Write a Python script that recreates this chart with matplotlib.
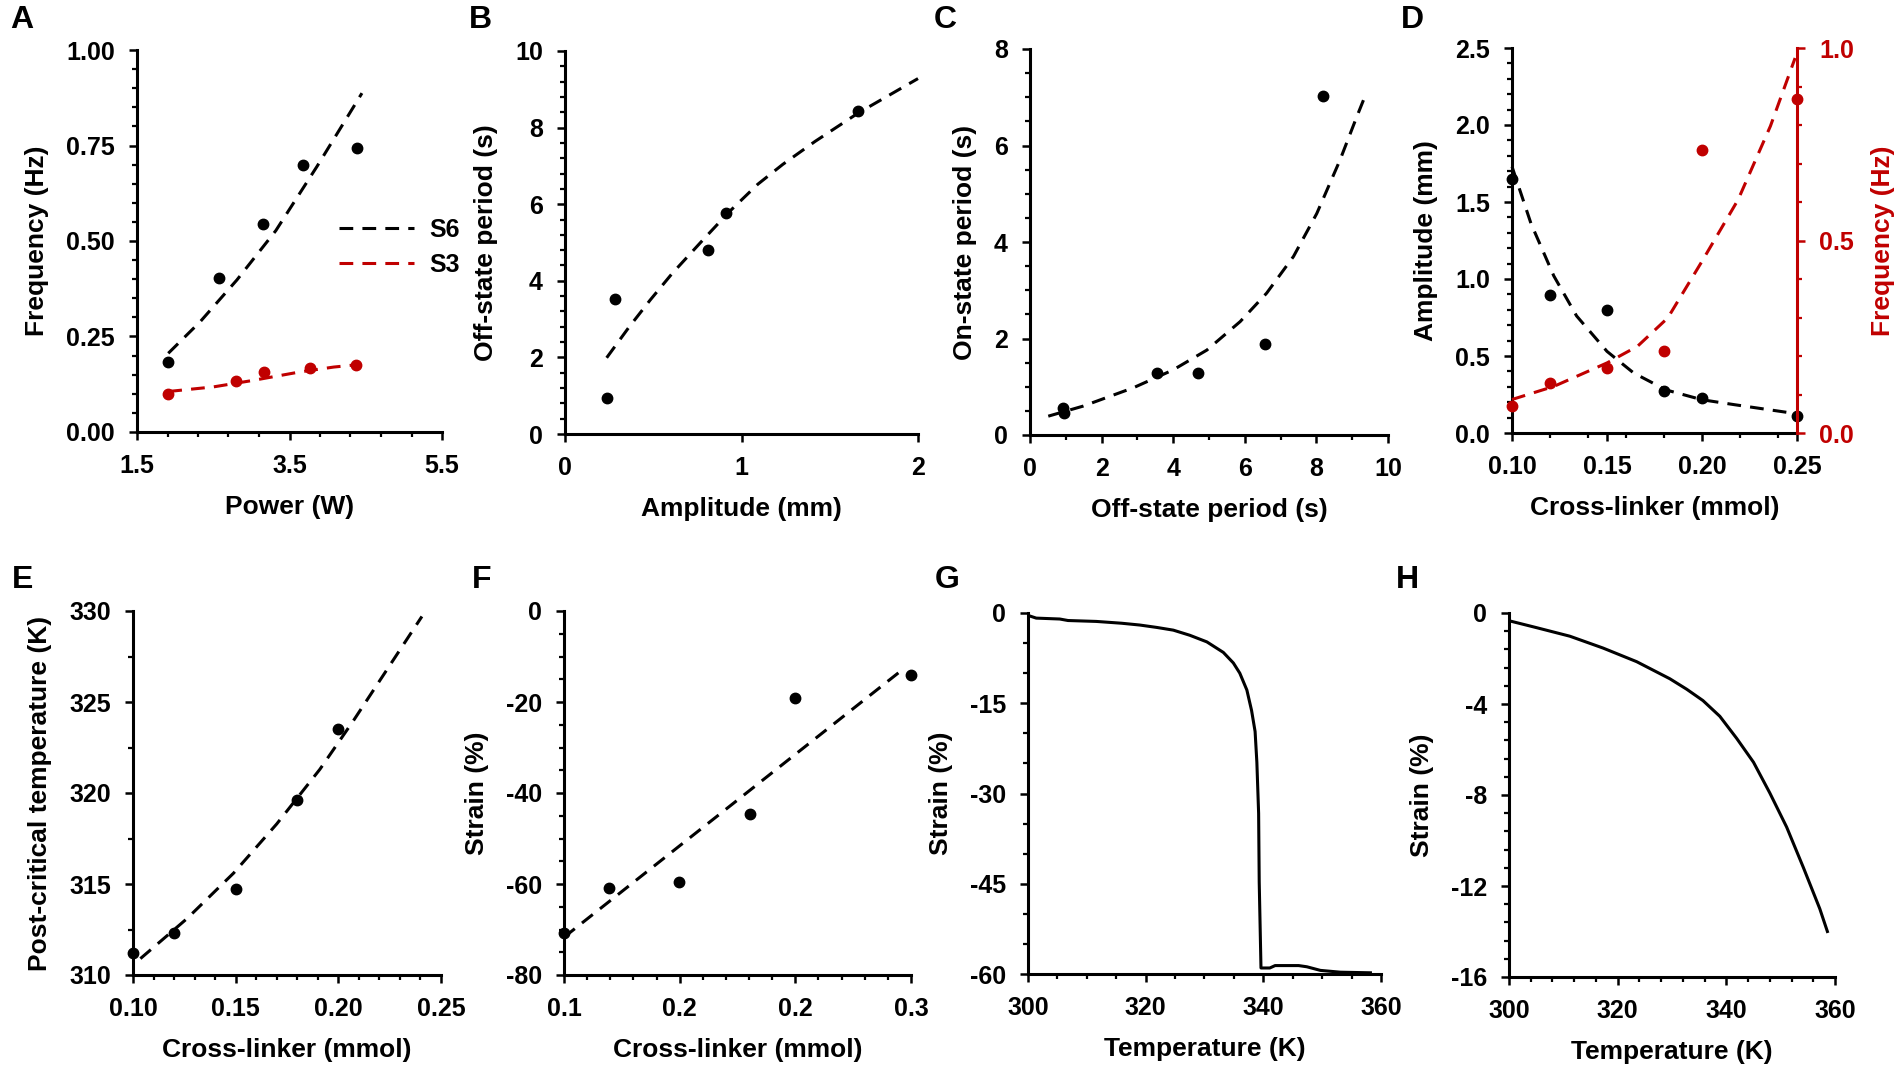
import matplotlib
matplotlib.use("Agg")
import matplotlib.pyplot as plt
from matplotlib.ticker import MultipleLocator, FormatStrFormatter, FixedLocator
import numpy as np

plt.rcParams['font.family'] = ['Liberation Sans', 'DejaVu Sans']
plt.rcParams['font.weight'] = 'bold'
plt.rcParams['axes.labelweight'] = 'bold'
plt.rcParams['axes.unicode_minus'] = False

RED = '#C00000'

# === data ===
# A: frequency vs power
a_s6_x = [1.91, 2.58, 3.15, 3.68, 4.39]
a_s6_y = [0.183, 0.403, 0.545, 0.699, 0.743]
a_s6_fit_x = [1.91, 2.33, 2.81, 3.32, 3.86, 4.45]
a_s6_fit_y = [0.206, 0.289, 0.398, 0.527, 0.695, 0.887]
a_s3_x = [1.91, 2.80, 3.16, 3.77, 4.37]
a_s3_y = [0.099, 0.134, 0.158, 0.167, 0.175]
a_s3_fit_x = [1.91, 2.50, 3.02, 3.63, 4.08, 4.38]
a_s3_fit_y = [0.106, 0.118, 0.135, 0.157, 0.170, 0.176]

# B: off-state period vs amplitude
b_x = [0.236, 0.286, 0.808, 0.91, 1.661]
b_y = [0.93, 3.53, 4.81, 5.78, 8.44]
b_fit_x = [0.236, 0.361, 0.483, 0.605, 0.788, 0.93, 1.092, 1.234, 1.417, 1.661, 2.0]
b_fit_y = [1.99, 2.78, 3.50, 4.18, 5.10, 5.80, 6.52, 7.04, 7.64, 8.38, 9.28]

# C: on-state period vs off-state period
c_x = [0.93, 0.96, 3.54, 4.68, 6.56, 8.19]
c_y = [0.55, 0.45, 1.29, 1.28, 1.89, 7.03]
c_fit_x = [0.51, 1.49, 2.89, 4.0, 4.94, 5.87, 6.61, 7.36, 8.01, 8.66, 9.13, 9.39]
c_fit_y = [0.39, 0.60, 0.98, 1.35, 1.76, 2.35, 2.94, 3.70, 4.59, 5.70, 6.60, 7.08]

# D: amplitude / frequency vs cross-linker
d_x = [0.10, 0.12, 0.15, 0.18, 0.20, 0.25]
d_amp = [1.65, 0.894, 0.797, 0.27, 0.227, 0.108]
d_freq = [0.069, 0.13, 0.169, 0.212, 0.736, 0.868]
d_amp_fit_x = [0.10, 0.11, 0.122, 0.134, 0.15, 0.164, 0.181, 0.20, 0.217, 0.247]
d_amp_fit_y = [1.73, 1.36, 1.02, 0.76, 0.53, 0.39, 0.28, 0.216, 0.184, 0.13]
d_freq_fit_x = [0.10, 0.122, 0.15, 0.166, 0.182, 0.20, 0.219, 0.236, 0.249]
d_freq_fit_y = [0.087, 0.121, 0.182, 0.225, 0.299, 0.446, 0.606, 0.797, 0.974]

# E: post-critical temperature vs cross-linker
e_x = [0.10, 0.12, 0.15, 0.18, 0.20]
e_y = [311.2, 312.3, 314.7, 319.6, 323.5]
e_fit_x = [0.1036, 0.1263, 0.149, 0.170, 0.191, 0.2075, 0.2407]
e_fit_y = [310.9, 313.1, 315.6, 318.3, 321.3, 324.0, 329.7]

# F: strain vs cross-linker
f_x = [0.10, 0.126, 0.166, 0.207, 0.233, 0.30]
f_y = [-70.8, -60.9, -59.5, -44.6, -19.1, -14.0]
f_fit_x = [0.10, 0.2967]
f_fit_y = [-71.7, -12.4]

# G: strain vs temperature
g_t = [300, 301.4, 305.4, 306.8, 311.6, 315.9, 319, 321.9, 324.7, 327.5, 330.4,
       333.2, 334.9, 336.0, 337.2, 338.0, 338.6, 338.9, 339.2, 339.3, 339.6,
       341.1, 342, 346, 347.4, 349.7, 353.1, 358.2]
g_s = [-0.4, -0.85, -1.0, -1.25, -1.4, -1.7, -2.0, -2.4, -2.85, -3.7, -4.8,
       -6.55, -8.3, -10.0, -12.8, -16.2, -19.7, -24.8, -33.3, -44.7, -59.0,
       -59.0, -58.6, -58.6, -58.8, -59.4, -59.7, -59.8]

# H: strain vs temperature
h_t = [300, 305, 311.2, 317.3, 323.5, 329.6, 332.7, 335.7, 338.8, 341.9,
       345.0, 348, 351.1, 354.2, 357.2, 358.6]
h_s = [-0.34, -0.64, -1.02, -1.54, -2.14, -2.89, -3.35, -3.85, -4.54, -5.51,
       -6.56, -7.91, -9.41, -11.2, -13.0, -14.0]

W, H = 1895, 1077
fig = plt.figure(figsize=(W / 100, H / 100), dpi=100)


def add_ax(l, r, t, b):
    return fig.add_axes([l / W, 1 - b / H, (r - l) / W, (b - t) / H])


def loc(v):
    if np.iterable(v):
        return FixedLocator(v)
    return MultipleLocator(v)


def style(ax, xlim, ylim, xmaj, xmin, ymaj, ymin, xfmt, yfmt):
    ax.set_xlim(*xlim)
    ax.set_ylim(*ylim)
    ax.xaxis.set_major_locator(loc(xmaj))
    if xmin is not None:
        ax.xaxis.set_minor_locator(loc(xmin))
    ax.yaxis.set_major_locator(loc(ymaj))
    if ymin is not None:
        ax.yaxis.set_minor_locator(loc(ymin))
    ax.xaxis.set_major_formatter(FormatStrFormatter(xfmt))
    ax.yaxis.set_major_formatter(FormatStrFormatter(yfmt))
    for s in ['top', 'right']:
        ax.spines[s].set_visible(False)
    for s in ['left', 'bottom']:
        ax.spines[s].set_linewidth(2.2)
    ax.tick_params(which='major', direction='out', length=6, width=1.8,
                   labelsize=18, pad=10)
    ax.tick_params(which='minor', direction='out', length=3.5, width=1.6)


def dots(ax, x, y, c='black'):
    ax.plot(x, y, 'o', color=c, ms=7.5, clip_on=False, zorder=4)


def fit(ax, x, y, c='black', label=None):
    ax.plot(x, y, color=c, lw=2.2, dashes=(4.5, 3), label=label, clip_on=False)


def letter(x, y, s):
    fig.text(x / W, 1 - y / H, s, fontsize=23, fontweight='bold',
             ha='center', va='center')


LP = 12

# A
ax = add_ax(137, 442, 50, 432)
fit(ax, a_s6_fit_x, a_s6_fit_y, 'black', 'S6')
fit(ax, a_s3_fit_x, a_s3_fit_y, RED, 'S3')
dots(ax, a_s6_x, a_s6_y)
dots(ax, a_s3_x, a_s3_y, RED)
style(ax, (1.5, 5.5), (0, 1), [1.5, 3.5, 5.5], np.arange(1.5, 5.51, 0.4),
      0.25, 0.05, '%.1f', '%.2f')
ax.set_xlabel('Power (W)', fontsize=19, labelpad=LP)
ax.set_ylabel('Frequency (Hz)', fontsize=19, labelpad=LP)
ax.legend(loc='upper left', bbox_to_anchor=(0.59, 0.62), frameon=False,
          fontsize=18, handlelength=3.0, handletextpad=0.6, labelspacing=0.45)

# B
ax = add_ax(565, 918, 51, 434)
fit(ax, b_fit_x, b_fit_y)
dots(ax, b_x, b_y)
style(ax, (0, 2), (0, 10), 1, None, 2, 0.4, '%d', '%d')
ax.set_xlabel('Amplitude (mm)', fontsize=19, labelpad=LP)
ax.set_ylabel('Off-state period (s)', fontsize=19, labelpad=LP)

# C
ax = add_ax(1030, 1388, 49, 435)
fit(ax, c_fit_x, c_fit_y)
dots(ax, c_x, c_y)
style(ax, (0, 10), (0, 8), 2, 1, 2, 0.5, '%d', '%d')
ax.set_xlabel('Off-state period (s)', fontsize=19, labelpad=LP)
ax.set_ylabel('On-state period (s)', fontsize=19, labelpad=LP)

# D
ax = add_ax(1512, 1797, 48, 433)
fit(ax, d_amp_fit_x, d_amp_fit_y)
dots(ax, d_x, d_amp)
style(ax, (0.10, 0.25), (0, 2.5), 0.05, 0.02, 0.5, 0.1, '%.2f', '%.1f')
ax.set_xlabel('Cross-linker (mmol)', fontsize=19, labelpad=LP)
ax.set_ylabel('Amplitude (mm)', fontsize=19, labelpad=LP)
ax2 = ax.twinx()
fit(ax2, d_freq_fit_x, d_freq_fit_y, RED)
dots(ax2, d_x, d_freq, RED)
ax2.set_ylim(0, 1)
ax2.yaxis.set_major_locator(MultipleLocator(0.5))
ax2.yaxis.set_minor_locator(MultipleLocator(0.1))
ax2.yaxis.set_major_formatter(FormatStrFormatter('%.1f'))
for s in ['top', 'left', 'bottom']:
    ax2.spines[s].set_visible(False)
ax2.spines['right'].set_linewidth(2.2)
ax2.spines['right'].set_color(RED)
ax2.tick_params(which='major', direction='out', length=6, width=1.8,
                labelsize=18, pad=10, colors=RED)
ax2.tick_params(which='minor', direction='out', length=3.5, width=1.6, colors=RED)
ax2.set_ylabel('Frequency (Hz)', fontsize=19, color=RED, labelpad=LP)

# E
ax = add_ax(133, 441, 611, 975)
fit(ax, e_fit_x, e_fit_y)
dots(ax, e_x, e_y)
style(ax, (0.10, 0.25), (310, 330), 0.05, 0.01, 5, 2.5, '%.2f', '%d')
ax.set_xlabel('Cross-linker (mmol)', fontsize=19, labelpad=LP)
ax.set_ylabel('Post-critical temperature (K)', fontsize=19, labelpad=LP)

# F
ax = add_ax(564, 911, 611, 975)
fit(ax, f_fit_x, f_fit_y)
dots(ax, f_x, f_y)
style(ax, (0.1, 0.3), (-80, 0), np.linspace(0.1, 0.3, 4),
      np.linspace(0.1, 0.3, 16), 20, 5, '%.1f', '%d')
ax.set_xlabel('Cross-linker (mmol)', fontsize=19, labelpad=LP)
ax.set_ylabel('Strain (%)', fontsize=19, labelpad=LP)

# G
ax = add_ax(1028, 1381, 613, 974)
ax.plot(g_t, g_s, color='black', lw=2.2)
style(ax, (300, 360), (-60, 0), 20, 5, 15, 5, '%d', '%d')
ax.set_xlabel('Temperature (K)', fontsize=19, labelpad=LP)
ax.set_ylabel('Strain (%)', fontsize=19, labelpad=LP)

# H
ax = add_ax(1509, 1835, 613, 977)
ax.plot(h_t, h_s, color='black', lw=2.2)
style(ax, (300, 360), (-16, 0), 20, 4, 4, 0.8, '%d', '%d')
ax.set_xlabel('Temperature (K)', fontsize=19, labelpad=LP)
ax.set_ylabel('Strain (%)', fontsize=19, labelpad=LP)

for x, y, s in [(22, 20, 'A'), (480, 20, 'B'), (945, 20, 'C'), (1412, 20, 'D'),
                (23, 580, 'E'), (482, 580, 'F'), (947, 580, 'G'), (1407, 580, 'H')]:
    letter(x, y, s)

fig.savefig('out.png', dpi=100)
